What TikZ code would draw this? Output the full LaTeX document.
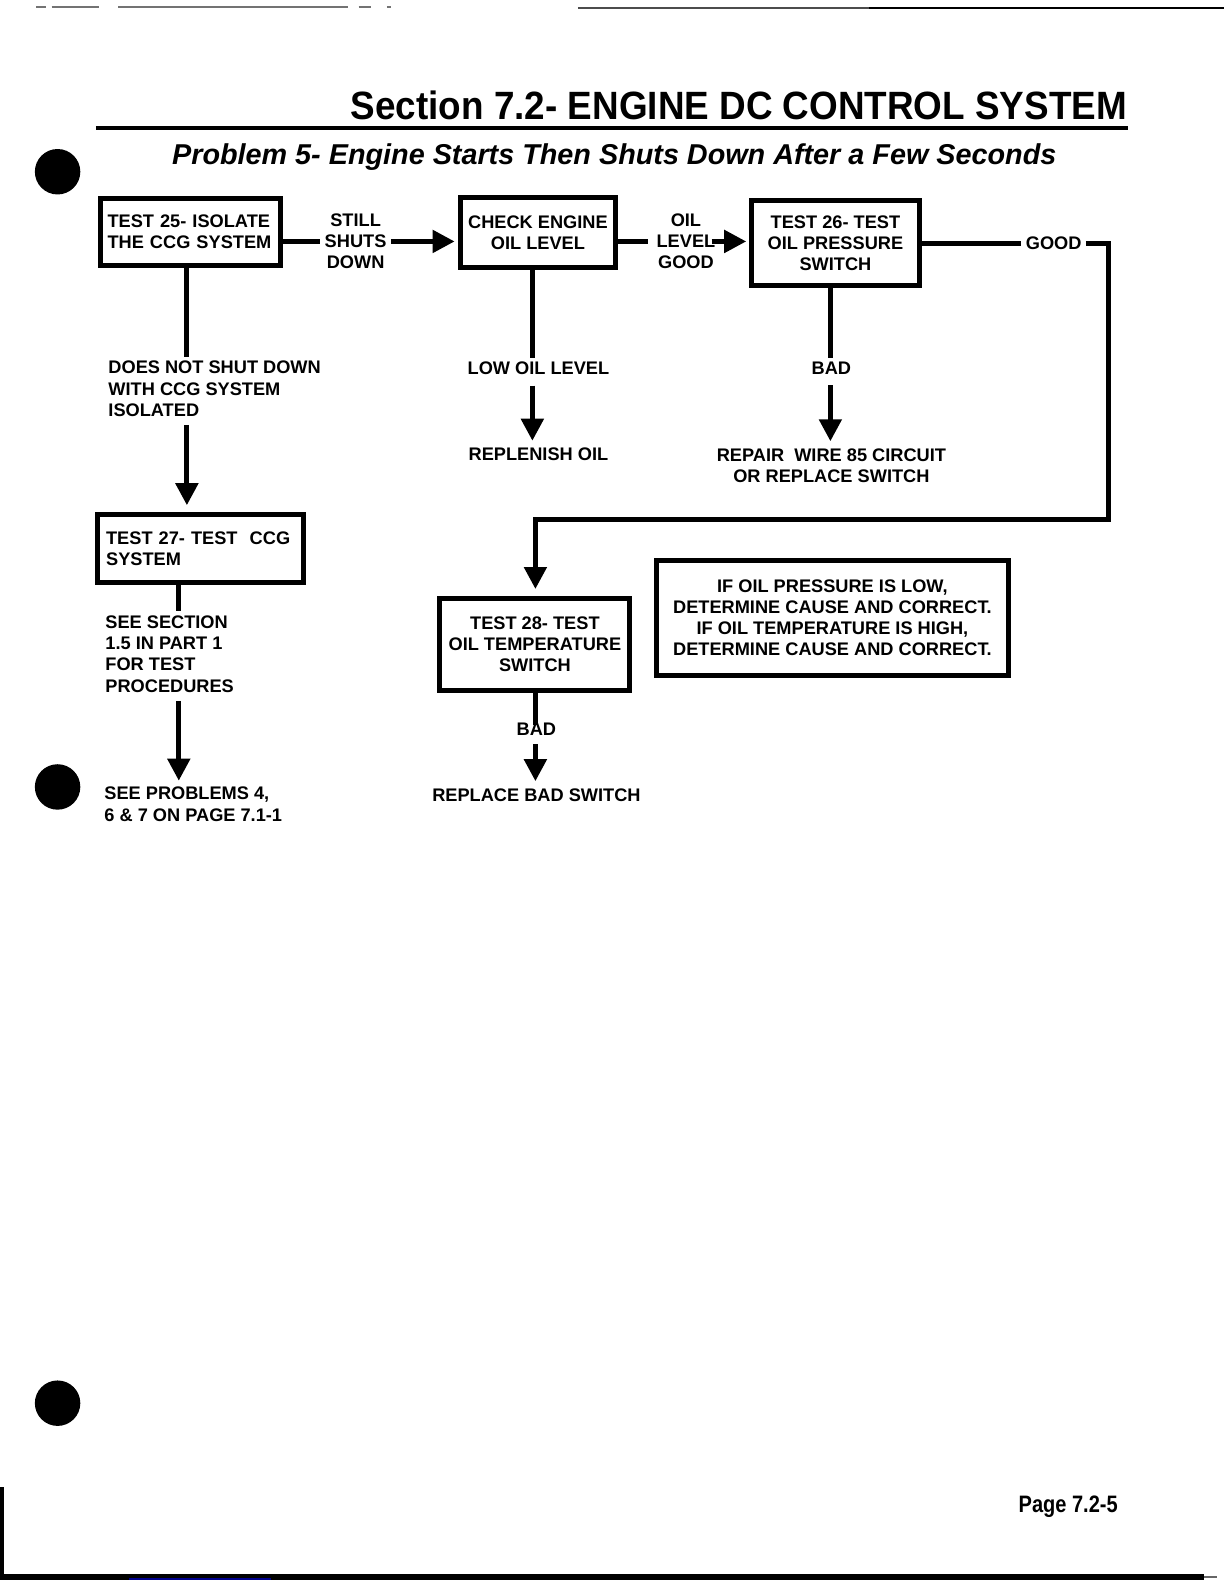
\documentclass[tikz,border=0pt]{standalone}
\usepackage{fontspec}
\setmainfont{Liberation Sans}
\usetikzlibrary{arrows.meta}
\newcommand\diagfont{\fontsize{9.1}{10.6}\selectfont\bfseries}
\tikzset{
  box/.style={draw, line width=2.5pt, inner ysep=0pt, inner xsep=1pt, align=center, font=\diagfont},
  lbl/.style={inner sep=2pt, align=center, font=\diagfont},
  lbll/.style={inner sep=2pt, align=left, font=\diagfont, anchor=west},
  conn/.style={line width=2.5pt},
  arr/.style={line width=2.5pt, -{Triangle[width=11pt,length=11pt]}},
  bullet/.style={fill=black},
}
\begin{document}
\begin{tikzpicture}[x=0.505pt, y=-0.505pt]
\useasboundingbox (0,0) rectangle (1212,1568);
\fill[white] (0,0) rectangle (1212,1568);

% page edges
\draw[black!55, line width=0.8pt] (36,7)--(46,7) (51,7)--(98,7) (117,7)--(344,7) (355,7)--(367,7) (383,7)--(387,7);
\draw[black!70, line width=0.9pt] (572,8)--(860,8);
\draw[black, line width=1.1pt] (860,8)--(1212,8);
\draw[line width=2.6pt] (0,1561)--(1192,1561);
\draw[black!60, line width=1pt] (1192,1561)--(1205,1561);
\draw[line width=2pt] (2,1472)--(2,1561);
\draw[blue!55!black, line width=1.2pt] (128,1563)--(268,1563);

% bullets
\fill[bullet] (57,170) circle (22.5);
\fill[bullet] (57,779) circle (22.5);
\fill[bullet] (57,1389) circle (22.5);

% header
\node[anchor=base east, inner sep=0pt] (title) at (1116,118)
  {\resizebox{388pt}{14.3pt}{\bfseries Section 7.2- ENGINE DC CONTROL SYSTEM}};
\draw[line width=2pt] (95,127) -- (1117,127);
\node[anchor=base west, inner sep=0pt] (subtitle) at (170,163)
  {\resizebox{442pt}{10.4pt}{\bfseries\itshape Problem 5- Engine Starts Then Shuts Down After a Few Seconds}};
\node[anchor=base west, inner sep=0pt] (pageno) at (1008,1497)
  {\resizebox{49.5pt}{8.3pt}{\bfseries Page 7.2-5}};

% boxes
\node[box, align=left, inner xsep=3.5pt, text width=82.9pt, minimum width=89.9pt, minimum height=33.3pt] (box1) at (188.5,229.5)
  {TEST 25- ISOLATE\\THE CCG SYSTEM};
\node[box, minimum width=77.8pt, minimum height=34.8pt] (box2) at (532.5,230)
  {CHECK ENGINE\\OIL LEVEL};
\node[box, minimum width=84.3pt, minimum height=42.4pt] (box3) at (827,240.5)
  {TEST 26- TEST\\OIL PRESSURE\\SWITCH};
\node[box, minimum width=94.9pt, minimum height=46pt] (box4) at (529.5,638)
  {TEST 28- TEST\\OIL TEMPERATURE\\SWITCH};
\node[box, minimum width=176.2pt, minimum height=57.6pt] (note) at (824,611.5)
  {IF OIL PRESSURE IS LOW,\\DETERMINE CAUSE AND CORRECT.\\IF OIL TEMPERATURE IS HIGH,\\DETERMINE CAUSE AND CORRECT.};
\node[box, align=left, inner xsep=4.3pt, text width=94.4pt, minimum width=103pt, minimum height=33.8pt] (box6) at (198.5,543)
  {TEST 27- TEST\ \ CCG\\SYSTEM};

% labels
\node[lbl] (still) at (352,239) {STILL\\SHUTS\\DOWN};
\node[lbl] (oilgood) at (679,239) {OIL\\LEVEL\\GOOD};
\node[lbl] (good) at (1043,241) {GOOD};
\node[lbll] (doesnot) at (103,385) {DOES NOT SHUT DOWN\\WITH CCG SYSTEM\\ISOLATED};
\node[lbll] (seesec) at (100,647.5) {SEE SECTION\\1.5 IN PART 1\\FOR TEST\\PROCEDURES};
\node[lbll] (seeprob) at (99,796) {SEE PROBLEMS 4,\\6 \& 7 ON PAGE 7.1-1};
\node[lbl] (lowoil) at (533,365) {LOW OIL LEVEL};
\node[lbl] (replenish) at (533,450) {REPLENISH OIL};
\node[lbl] (bad1) at (823,365) {BAD};
\node[lbl] (repair) at (823,461) {REPAIR\ \ WIRE 85 CIRCUIT\\OR REPLACE SWITCH};
\node[lbl] (bad2) at (531,722) {BAD};
\node[lbl] (replace) at (531,787) {REPLACE BAD SWITCH};

% line columns
\coordinate (xa) at (185,0);
\coordinate (xb) at (177,0);
\coordinate (xc) at (527,0);
\coordinate (xd) at (822,0);
\coordinate (xe) at (530,0);
\coordinate (c1) at (1097,241);
\coordinate (c2) at (1097,514);
\coordinate (c3) at (530,514);

% top row connectors
\draw[conn] (box1.east |- still.west) -- (still.west);
\draw[arr, shorten >=1.5pt] (still.east) -- (still.east -| box2.west);
\draw[conn] (box2.east |- oilgood.west) -- ([xshift=-2pt]oilgood.west);
\draw[arr, shorten >=1.2pt] ([xshift=-4pt]oilgood.east) -- (oilgood.east -| box3.west);
\draw[conn] (box3.east |- good.west) -- (good.west);
\draw[arr, line join=miter, shorten >=3.5pt] (good.east) -- (c1) -- (c2) -- (c3) -- (c3 |- box4.north);

% left column
\draw[conn] (box1.south -| xa) -- (xa |- doesnot.north);
\draw[arr, shorten <=2pt, shorten >=3.5pt] (xa |- doesnot.south) -- (xa |- box6.north);
\draw[conn] (box6.south -| xb) -- (xb |- seesec.north);
\draw[arr, shorten <=2pt, shorten >=1pt] (xb |- seesec.south) -- (xb |- seeprob.north);

% middle column
\draw[conn] (box2.south -| xc) -- (xc |- lowoil.north);
\draw[arr, shorten <=3pt, shorten >=1.5pt] (xc |- lowoil.south) -- (xc |- replenish.north);
\draw[conn] (box4.south -| xe) -- ([yshift=-3pt]xe |- bad2.north);
\draw[arr, shorten <=2pt, shorten >=1.5pt] (xe |- bad2.south) -- (xe |- replace.north);

% right column
\draw[conn] (box3.south -| xd) -- (xd |- bad1.north);
\draw[arr, shorten <=3pt, shorten >=1.5pt] (xd |- bad1.south) -- (xd |- repair.north);
\end{tikzpicture}
\end{document}
